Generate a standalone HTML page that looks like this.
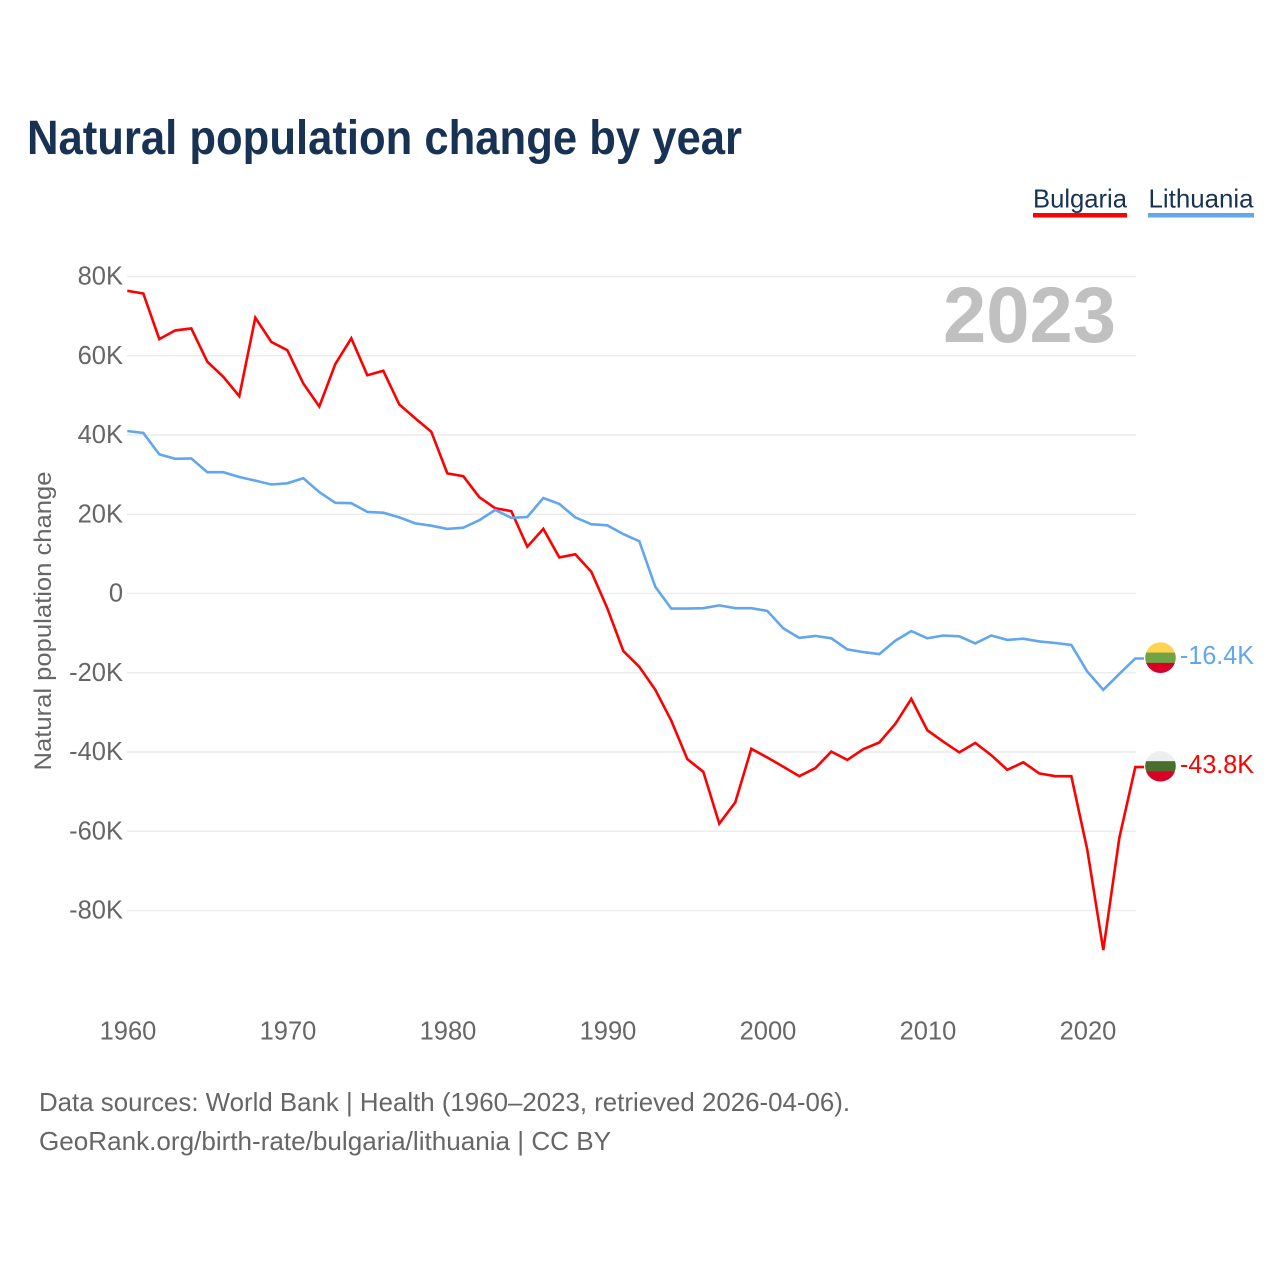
<!DOCTYPE html>
<html lang="en">
<head>
<meta charset="utf-8">
<title>Natural population change by year</title>
<style>
html,body{margin:0;padding:0;background:#fff;}
svg{display:block;}
text{font-family:"Liberation Sans",sans-serif;}
</style>
</head>
<body>
<svg id="chart" xmlns="http://www.w3.org/2000/svg" width="1280" height="1280" viewBox="0 0 1280 1280">
  <rect width="1280" height="1280" fill="#ffffff"/>
  <text x="27" y="154" font-size="48.5" font-weight="700" fill="#173253" textLength="715" lengthAdjust="spacingAndGlyphs">Natural population change by year</text>

  <g>
    <text x="1033" y="207.500" font-size="26" fill="#173253" textLength="94" lengthAdjust="spacingAndGlyphs">Bulgaria</text>
    <rect x="1033" y="213" width="94" height="4.5" fill="#ff0000"/>
  </g>
  <g>
    <text x="1148.500" y="207.500" font-size="26" fill="#173253" textLength="105" lengthAdjust="spacingAndGlyphs">Lithuania</text>
    <rect x="1148" y="213" width="106" height="4.5" fill="#62a6ec"/>
  </g>

  <g id="grid"></g>
  <g id="y-ticks"></g>
  <g id="x-ticks"></g>

  <text transform="translate(51,621) rotate(-90)" text-anchor="middle" font-size="24.500" fill="#666666" textLength="299" lengthAdjust="spacingAndGlyphs">Natural population change</text>
  <text x="943" y="342" font-size="79" font-weight="700" fill="#c0c0c0" textLength="173" lengthAdjust="spacingAndGlyphs">2023</text>

  <g id="series"></g>
  <g id="end-markers"></g>

  <text x="39" y="1111" font-size="26" fill="#666666" textLength="811" lengthAdjust="spacingAndGlyphs">Data sources: World Bank | Health (1960–2023, retrieved 2026-04-06).</text>
  <text x="39" y="1150" font-size="26" fill="#666666" textLength="572" lengthAdjust="spacingAndGlyphs">GeoRank.org/birth-rate/bulgaria/lithuania | CC BY</text>
</svg>

<script>
const firstYear = 1960;
const bulgaria = [76.4,75.7,64.2,66.4,66.9,58.5,54.7,49.8,69.6,63.5,61.4,53.0,47.2,57.9,64.4,55.1,56.2,47.7,44.2,40.8,30.3,29.6,24.3,21.5,20.8,11.8,16.3,9.1,9.9,5.5,-3.7,-14.5,-18.5,-24.3,-32.1,-41.8,-45.0,-58.1,-52.7,-39.2,-41.4,-43.7,-46.1,-44.1,-39.9,-42.0,-39.3,-37.6,-32.9,-26.6,-34.5,-37.4,-40.1,-37.7,-40.8,-44.5,-42.6,-45.4,-46.1,-46.1,-64.7,-90.0,-61.7,-43.8];
const lithuania = [41.0,40.5,35.1,34.0,34.1,30.6,30.6,29.4,28.5,27.5,27.8,29.1,25.6,22.9,22.8,20.6,20.4,19.2,17.7,17.1,16.3,16.6,18.5,21.1,19.1,19.3,24.1,22.6,19.2,17.5,17.2,15.0,13.2,1.7,-3.8,-3.8,-3.7,-3.0,-3.7,-3.7,-4.4,-8.8,-11.2,-10.7,-11.3,-14.1,-14.8,-15.3,-11.9,-9.5,-11.3,-10.6,-10.8,-12.6,-10.6,-11.7,-11.4,-12.1,-12.5,-13.0,-19.7,-24.3,-20.3,-16.4];
const yTicks = [80,60,40,20,0,-20,-40,-60,-80];
const xTicks = [1960,1970,1980,1990,2000,2010,2020];
const bulgariaFlagBands = ["#eeeeee","#496e2d","#d80027"];
const lithuaniaFlagBands = ["#ffd34d","#6fa344","#d80027"];

const NS = 'http://www.w3.org/2000/svg';
function xScale(year){ return 127.3 + (year - 1960) * 16; }
function yScale(v){ return 593.5 - v * 3.9625; }
function make(tag, attrs, parent){
  const el = document.createElementNS(NS, tag);
  for (const k in attrs) el.setAttribute(k, attrs[k]);
  parent.appendChild(el);
  return el;
}

const gridG = document.getElementById('grid');
const yG = document.getElementById('y-ticks');
yTicks.forEach(function(t){
  const line = make('line', {x1:127, x2:1136, y1:yScale(t), y2:yScale(t), stroke:'#ececec', 'stroke-width':1.4}, gridG);
  
  
  const label = make('text', {x:123, y:yScale(t)+8, 'text-anchor':'end', 'font-size':25.5, fill:'#666666'}, yG);
  
  
  label.textContent = t === 0 ? '0' : t + 'K';
});

const xG = document.getElementById('x-ticks');
xTicks.forEach(function(t){
  const label = make('text', {x:xScale(t)+0.7, y:1039.5, 'text-anchor':'middle', 'font-size':25.5, fill:'#666666'}, xG);
  
  
  label.textContent = String(t);
});

function pointsFor(values){
  return values.map(function(v,i){ return xScale(firstYear+i).toFixed(1)+','+yScale(v).toFixed(1); });
}
const seriesG = document.getElementById('series');
const redLine = make('polyline', {points:pointsFor(bulgaria).join(' ')+' 1144,'+yScale(bulgaria[bulgaria.length-1]).toFixed(1), fill:'none', stroke:'#ff0000', 'stroke-width':2.6, 'stroke-linejoin':'miter'}, seriesG);


const blueLine = make('polyline', {points:pointsFor(lithuania).join(' ')+' 1144,'+yScale(lithuania[lithuania.length-1]).toFixed(1), fill:'none', stroke:'#62a6ec', 'stroke-width':2.6, 'stroke-linejoin':'miter'}, seriesG);



const markersG = document.getElementById('end-markers');
function drawEnd(values, bands, color, key){
  const last = values[values.length-1];
  const cy = yScale(last) - 0.8;
  const clip = make('clipPath', {id:'clip-'+key}, markersG);
  make('circle', {cx:1160.5, cy:cy, r:15.3}, clip);
  const flag = make('g', {'clip-path':'url(#clip-'+key+')'}, markersG);
  
  
  bands.forEach(function(c,i){
    make('rect', {x:1145, y:cy-15.4+i*10.3, width:31, height:10.5, fill:c}, flag);
  });
  const label = make('text', {x:1180, y:cy+6.5, 'font-size':25.5, fill:color, textLength:74, lengthAdjust:'spacingAndGlyphs'}, markersG);
  
  
  label.textContent = last.toFixed(1) + 'K';
}
drawEnd(lithuania, lithuaniaFlagBands, '#62a6ec', 'lt');
drawEnd(bulgaria, bulgariaFlagBands, '#ff0000', 'bg');
</script>
</body>
</html>
